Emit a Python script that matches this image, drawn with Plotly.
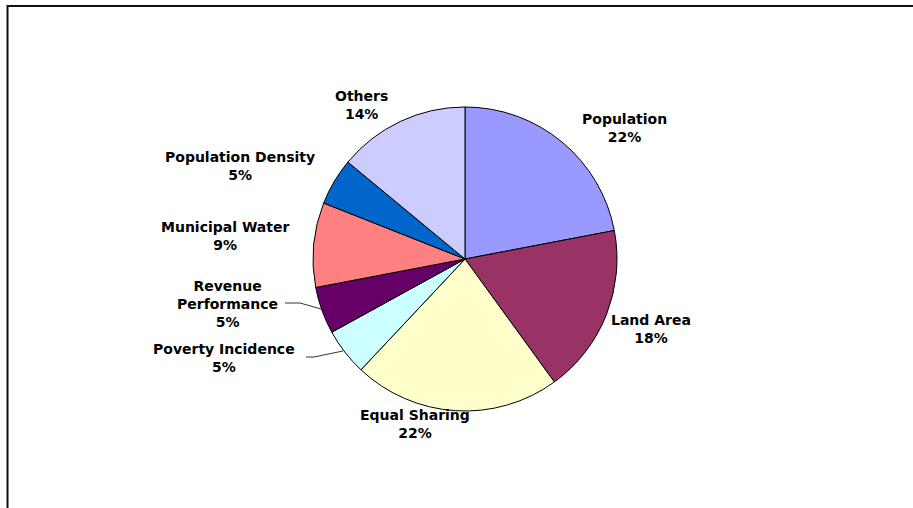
import plotly.graph_objects as go

# Share of the allotment by criterion
categories = [
    "Population",
    "Land Area",
    "Equal Sharing",
    "Poverty Incidence",
    "Revenue Performance",
    "Municipal Water",
    "Population Density",
    "Others",
]
shares = [22, 18, 22, 5, 5, 9, 5, 14]
slice_colors = [
    "#9999FF",
    "#993366",
    "#FFFFCC",
    "#CCFFFF",
    "#660066",
    "#FF8080",
    "#0066CC",
    "#CCCCFF",
]

W, H = 913, 508


def px(x, y):
    """Pixel position -> paper coordinates."""
    return x / W, 1 - y / H


# pie geometry (pixels)
cx, cy, r = 465, 259, 152

fig = go.Figure()
fig.add_trace(
    go.Pie(
        labels=categories,
        values=shares,
        sort=False,
        direction="clockwise",
        rotation=0,
        marker=dict(colors=slice_colors, line=dict(color="#000000", width=1)),
        textinfo="none",
        hoverinfo="label+percent",
        showlegend=False,
        domain=dict(
            x=[(cx - r) / W, (cx + r) / W],
            y=[1 - (cy + r) / H, 1 - (cy - r) / H],
        ),
    )
)

# label placement (text block centres, pixels)
label_pos = {
    "Population": (624, 128),
    "Land Area": (651, 329),
    "Equal Sharing": (415, 424),
    "Poverty Incidence": (224, 358),
    "Revenue Performance": (227, 304),
    "Municipal Water": (225, 236),
    "Population Density": (240, 166),
    "Others": (361, 105),
}
wrapped = {"Revenue Performance"}

total = sum(shares)
for name, v in zip(categories, shares):
    pct = round(v / total * 100)
    text = name.replace(" ", "<br>") if name in wrapped else name
    x, y = px(*label_pos[name])
    fig.add_annotation(
        x=x, y=y, xref="paper", yref="paper",
        text=f"{text}<br>{pct}%",
        showarrow=False,
        xanchor="center", yanchor="middle",
        align="center",
        font=dict(family="DejaVu Sans", size=14, color="#000000", weight="bold"),
    )


def path(points):
    pts = [px(x, y) for x, y in points]
    return "M " + " L ".join(f"{a:.5f},{b:.5f}" for a, b in pts)


# leader lines for the two small slices on the left
for pts in (
    [(285, 303), (300, 303), (321, 309)],
    [(306, 357), (314, 357), (343, 351)],
):
    fig.add_shape(
        type="path", path=path(pts), xref="paper", yref="paper",
        line=dict(color="#333333", width=1),
    )

# chart frame (top and left edges in view)
x0, y1 = px(7.5, 6)
fig.add_shape(
    type="rect", xref="paper", yref="paper",
    x0=x0, y0=-0.2, x1=1.2, y1=y1,
    line=dict(color="#111111", width=2),
)

fig.update_layout(
    width=W,
    height=H,
    margin=dict(l=0, r=0, t=0, b=0),
    paper_bgcolor="#FFFFFF",
    plot_bgcolor="#FFFFFF",
)

fig.write_html("out.html")
